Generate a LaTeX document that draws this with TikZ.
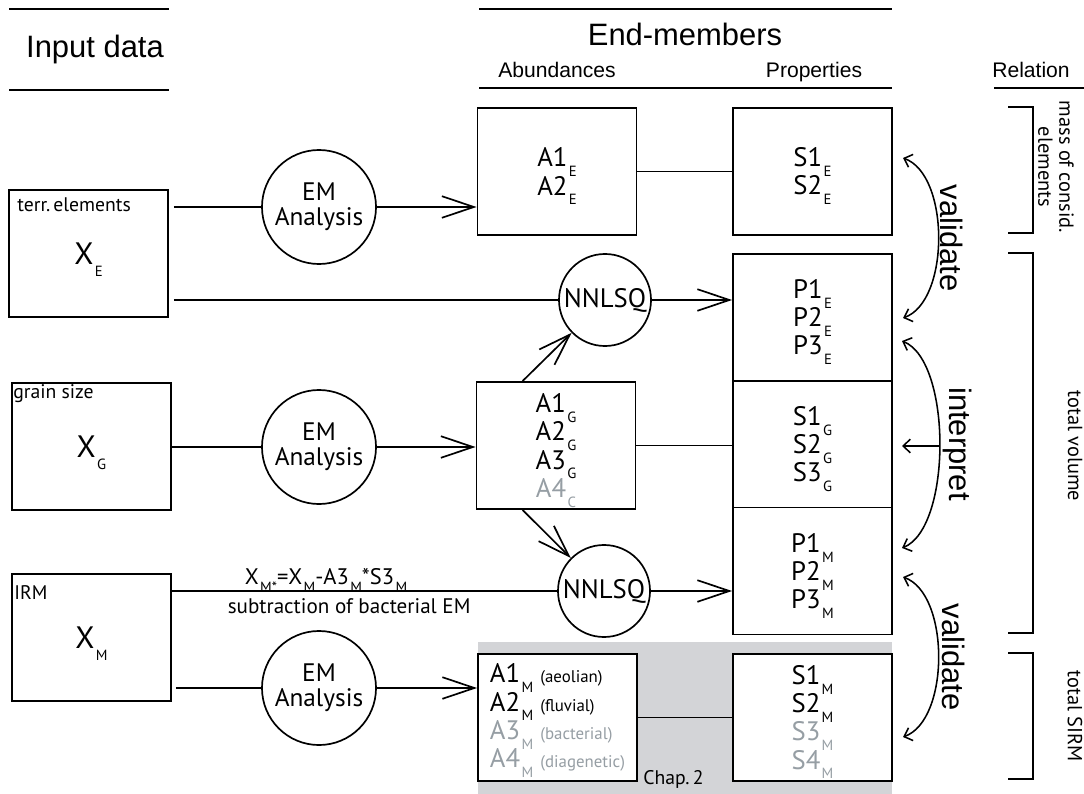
\documentclass[tikz,border=0pt]{standalone}
\usepackage{fontspec}
\setmainfont{PT Sans}
\newfontfamily\headfont{Liberation Sans}
\usetikzlibrary{arrows.meta, positioning, calc}
\definecolor{faded}{RGB}{150,158,164}
\definecolor{chapgray}{RGB}{211,212,215}
\newcommand{\lo}[2][7pt]{\kern1pt\raisebox{-#1}[0pt][0pt]{\fontsize{10.5}{10.5}\selectfont #2}}

\begin{document}
\begin{tikzpicture}[
    x=0.025cm, y=-0.025cm,
    line/.style={line width=1.2pt},
    arr/.style={line width=1.2pt, -{Straight Barb[length=8mm, width=5.4mm]}},
    both/.style={line width=1.1pt, {Straight Barb[length=1.8mm, width=3.4mm]}-{Straight Barb[length=1.8mm, width=3.4mm]}},
    single/.style={line width=1.1pt, -{Straight Barb[length=1.8mm, width=3.4mm]}},
    hrule/.style={line width=1.2pt},
    box/.style={draw, line width=1.3pt, fill=white, minimum width=3.975cm, minimum height=3.175cm, inner sep=0pt, align=center, font=\fontsize{19}{20}\selectfont},
    inbox/.style={box, font=\fontsize{22}{22}\selectfont},
    emcirc/.style={circle, draw, line width=1.2pt, fill=white, minimum size=2.85cm, inner sep=0pt, align=center, font=\fontsize{18}{18}\selectfont},
    nncirc/.style={circle, draw, line width=1.2pt, fill=white, minimum size=2.3cm, inner sep=0pt, font=\fontsize{19}{19}\selectfont},
    srclabel/.style={anchor=north west, inner sep=0pt, font=\fontsize{14}{14}\selectfont},
    title/.style={anchor=base, inner sep=0pt, font=\headfont\fontsize{22}{24}\selectfont},
    subtitle/.style={anchor=base, inner sep=0pt, font=\headfont\fontsize{15}{16}\selectfont},
    verbal/.style={rotate=-90, inner sep=0pt, font=\headfont\fontsize{22}{22}\selectfont},
    relation/.style={rotate=-90, inner sep=0pt, align=center, font=\fontsize{14.5}{15}\selectfont}
]
\useasboundingbox (0,0) rectangle (1084,794);

% ================= HEADERS =================
\draw[hrule] (9,9) -- (169,9);
\draw[hrule] (9,90) -- (169,90);
\node[title] (inputhd) at (95,58) {Input data};

\draw[hrule] (479,9) -- (892,9);
\draw[hrule] (479,88) -- (892,88);
\node[title] (emhd) at (685,46) {End-members};
\node[subtitle] (abhd) at (557,78) {Abundances};
\node[subtitle] (prhd) at (814,78) {Properties};

\draw[hrule] (994,88) -- (1084,88);
\node[subtitle] (relhd) at (1031,78) {Relation};

% ================= CHAPTER 2 BACKGROUND =================
\fill[chapgray] (478,642) rectangle (892,794);
\node[anchor=base west, inner sep=0pt, font=\fontsize{14}{14}\selectfont] (chap) at (643,784) {Chap.\,2};

% ================= INPUT DATA =================
\node[inbox] (xe) at (88.5,253.5) {X\lo[8.5pt]{E}};
\node[srclabel] (xetag) at ($(xe.north west)+(9,8)$) {terr.\,elements};

\node[inbox] (xg) at (91.5,446.5) {X\lo[8.5pt]{G}};
\node[srclabel] (xgtag) at ($(xg.north west)+(2,2)$) {grain size};

\node[inbox] (xm) at (91.5,637.5) {X\lo[8.5pt]{M}};
\node[srclabel] (xmtag) at ($(xm.north west)+(3,12)$) {IRM};

% ================= ANALYSIS STEPS =================
\node[emcirc] (em1) at (319,207) {EM\\Analysis};
\node[emcirc] (em2) at (319,447) {EM\\Analysis};
\node[emcirc] (em3) at (319,688) {EM\\Analysis};

\node[nncirc] (nn1) at (605,300) {NNLSQ};
\node[nncirc] (nn2) at (604,591) {NNLSQ};

% ================= ABUNDANCES =================
\node[box] (ae) at (557,171.5) {A1\lo{E}\\A2\lo{E}};
\node[box] (ag) at (556,445.5) {A1\lo{G}\\A2\lo{G}\\A3\lo{G}\\{\color{faded}A4\lo{C}}};
\node[box, align=left] (am) at (557.5,717.5) {A1\lo{M}\hspace{5pt}{\fontsize{12}{12}\selectfont (aeolian)}\\
    A2\lo{M}\hspace{5pt}{\fontsize{12}{12}\selectfont (fluvial)}\\
    {\color{faded}A3\lo{M}\hspace{5pt}{\fontsize{12}{12}\selectfont (bacterial)}}\\
    {\color{faded}A4\lo{M}\hspace{5pt}{\fontsize{12}{12}\selectfont (diagenetic)}}};

% ================= PROPERTIES =================
\node[box] (se) at (812.5,171.5) {S1\lo{E}\\S2\lo{E}};
\node[box] (pe) at (812.5,317.5) {P1\lo{E}\\P2\lo{E}\\P3\lo{E}};
\node[box] (sg) at (812.5,444.5) {S1\lo{G}\\S2\lo{G}\\S3\lo{G}};
\node[box] (pm) at (812.5,571) {P1\lo{M}\\P2\lo{M}\\P3\lo{M}};
\node[box] (sm) at (812.5,717.5) {S1\lo{M}\\S2\lo{M}\\{\color{faded}S3\lo{M}}\\{\color{faded}S4\lo{M}}};

% ================= CONNECTIONS =================
% elements
\draw[line] ($(xe.east |- em1)+(5,0)$) -- (em1);
\draw[arr] (em1) -- (em1 -| ae.west);
\draw[line] (ae) -- (se);
\draw[line] ($(xe.east |- nn1)+(5,0)$) -- (nn1);
\draw[arr] (nn1) -- (nn1 -| pe.west);

% grain size
\draw[line] (xg.east |- em2) -- (em2);
\draw[arr] (em2) -- (em2 -| ag.west);
\draw[line] (ag.east) -- (ag.east -| sg.west);
\draw[arr] ($(ag.north west)+(47,0)$) -- (nn1);
\draw[arr] ($(ag.south west)+(47,0)$) -- (nn2);

% IRM
\draw[line] (xm.east |- nn2) -- node[pos=0.40, above, inner sep=3.5pt, font=\fontsize{16}{16}\selectfont] (corr) {X\lo[5pt]{M*}=X\lo[5pt]{M}-A3\lo[5pt]{M}*S3\lo[5pt]{M}}
    node[pos=0.46, below, inner sep=5pt, font=\fontsize{15}{15}\selectfont] (corrtxt) {subtraction of bacterial EM} (nn2);
\draw[arr] (nn2) -- (nn2 -| pm.west);
\draw[line] ($(xm.east |- em3)+(4,0)$) -- (em3);
\draw[arr] (em3) -- (em3 -| am.west);
\draw[line] (am.east) -- (am.east -| sm.west);

% ================= VALIDATE / INTERPRET =================
\coordinate (v1a) at (903,158);
\coordinate (v1b) at (903,318);
\coordinate (i1a) at (902,341);
\coordinate (i1b) at (902,548);
\coordinate (imid) at (940,446);
\coordinate (v2a) at (903,577);
\coordinate (v2b) at (903,737);

\draw[both] (v1a) .. controls +(47,17) and +(47,-17) .. (v1b);
\draw[both] (i1a) .. controls +(50,20) and +(50,-20) .. (i1b);
\draw[single] (imid) -- (imid -| i1a);
\draw[both] (v2a) .. controls +(47,17) and +(47,-17) .. (v2b);

\node[verbal] (valtop) at (952,238) {validate};
\node[verbal] (interp) at (957,444) {interpret};
\node[verbal] (valbot) at (954,657) {validate};

% ================= RELATION =================
\draw[line] (1008,107) -- (1033,107) -- (1033,233) -- (1008,233);
\draw[line] (1008,253) -- (1033,253) -- (1033,633) -- (1008,633);
\draw[line] (1008,653) -- (1033,653) -- (1033,779) -- (1008,779);

\node[relation] (massel) at (1056,167) {mass of consid.\\elements};
\node[relation] (totvol) at (1075,446) {total volume};
\node[relation] (totsirm) at (1075,716) {total SIRM};

\end{tikzpicture}
\end{document}
